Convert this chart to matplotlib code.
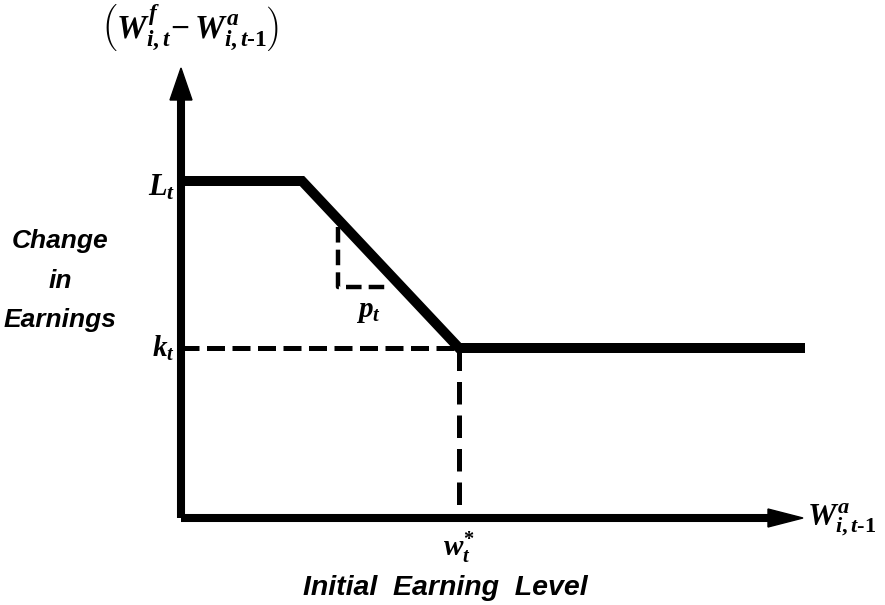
import matplotlib
matplotlib.use("Agg")
import matplotlib.pyplot as plt
from matplotlib.patches import Polygon

plt.rcParams['mathtext.fontset'] = 'custom'
plt.rcParams['mathtext.rm'] = 'Liberation Serif:bold'
plt.rcParams['mathtext.it'] = 'Liberation Serif:italic:bold'
plt.rcParams['mathtext.bf'] = 'Liberation Serif:bold'

# ---- data (abstract units, origin at axes intersection) ----
curve_x = [0, 121, 278, 624]          # initial earnings W^a_{i,t-1}
curve_y = [337, 337, 170, 170]        # change in earnings
L_level = 337
k_level = 170
w_star = 278
slope_tri_x = [157, 157, 209]         # small dashed triangle (slope p_t)
slope_tri_y = [291, 231, 231]
x_axis_end = 622
y_axis_end = 450

fig = plt.figure(figsize=(8.85, 6.05), dpi=100)
ax = fig.add_axes([0, 0, 1, 1])
ax.set_xlim(-181, 704)
ax.set_ylim(-87, 518)
ax.axis('off')

# axes lines with arrowheads
head_len_x, head_w_x = 35, 9
head_len_y, head_w_y = 32, 11
ax.plot([0, x_axis_end - head_len_x + 2], [0, 0], color='black', lw=5.8, solid_capstyle='butt')
ax.plot([0, 0], [0, y_axis_end - head_len_y + 2], color='black', lw=5.8, solid_capstyle='butt')
ax.add_patch(Polygon([[x_axis_end - head_len_x, head_w_x], [x_axis_end, 0],
                      [x_axis_end - head_len_x, -head_w_x]], closed=True, color='black'))
ax.add_patch(Polygon([[-head_w_y, y_axis_end - head_len_y], [0, y_axis_end],
                      [head_w_y, y_axis_end - head_len_y]], closed=True, color='black'))

# main curve
ax.plot(curve_x, curve_y, color='black', lw=7.2, solid_capstyle='butt', solid_joinstyle='miter')

# dashed guides
ax.plot([0, w_star], [k_level, k_level], color='black', lw=3.6, linestyle=(0, (3.6, 1.5)))
ax.plot([w_star, w_star], [k_level, 0], color='black', lw=3.6, linestyle=(0, (4.5, 2.2)))
ax.plot(slope_tri_x, slope_tri_y, color='black', lw=3.2, linestyle=(0, (3.5, 1.6)))

# labels
ax.text(9, 490, r'$\left(W^{f}_{i,t}\!-W^{a}_{i,t\text{-}1}\right)$', fontsize=24,
        ha='center', va='center')
ax.text(-6, L_level - 6, r'$L_{t}$', fontsize=22, ha='right', va='center')
ax.text(-6, k_level, r'$k_{t}$', fontsize=21, ha='right', va='center')
ax.text(187, 207, r'$p_{t}$', fontsize=21, ha='center', va='center')
ax.text(w_star, -30, r'$w^{*}_{t}$', fontsize=21, ha='center', va='center')
ax.text(x_axis_end + 4, -2, r'$W^{a}_{i,t\text{-}1}$', fontsize=23, ha='left', va='center')

sans = dict(family='Liberation Sans', fontweight='bold', fontstyle='italic', fontsize=19)
ax.text(-121, 270, 'Change', ha='center', va='baseline', **sans)
ax.text(-121, 230, 'in', ha='center', va='baseline', **sans)
ax.text(-121, 191, 'Earnings', ha='center', va='baseline', **sans)
ax.text(264, -77, 'Initial  Earning  Level', ha='center', va='baseline',
        **{**sans, 'fontsize': 20.5})

fig.savefig('out.png', dpi=100)
